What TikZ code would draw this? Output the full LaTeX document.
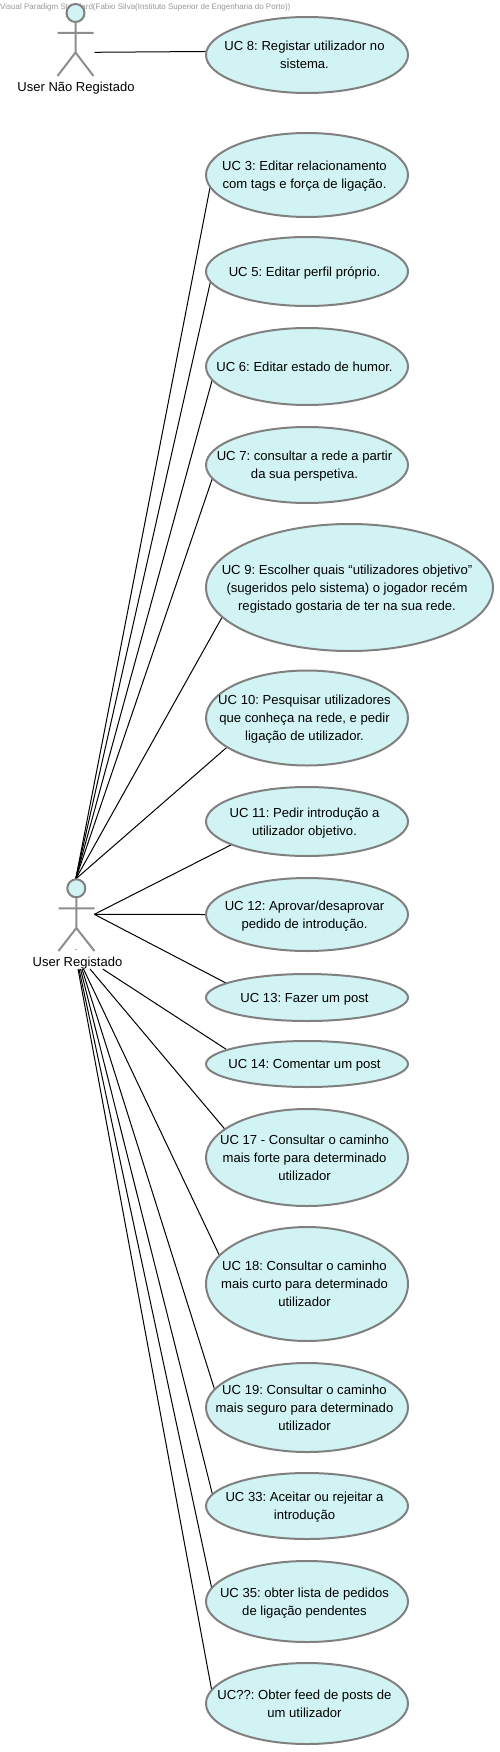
\documentclass[tikz,border=0pt]{standalone}
\usepackage{fontspec}
\setmainfont{Liberation Sans}
\usetikzlibrary{shapes.geometric,backgrounds}
\definecolor{ucfill}{RGB}{210,243,243}
\definecolor{ucline}{RGB}{128,128,128}
\definecolor{wm}{RGB}{150,150,150}
\newcommand{\uct}[1]{\makebox[0pt]{\kern-5pt\raisebox{-4pt}[0pt][0pt]{\frenchspacing\begin{tabular}{@{}c@{}}#1\end{tabular}}}}
\tikzset{
  usecase/.style={ellipse,draw=ucline,fill=ucfill,line width=2pt,inner sep=0pt,outer sep=0pt,
    minimum width=202pt,font=\fontsize{13.1}{18}\selectfont,text=black},
  actorline/.style={draw=ucline!90!white,line width=2pt},
  actorhead/.style={circle,draw=ucline,fill=ucfill,line width=2pt,inner sep=0pt,outer sep=0pt,minimum size=18pt},
  actorname/.style={font=\fontsize{13}{16}\selectfont,inner sep=0pt,text=black},
  assoc/.style={draw=black,line width=1pt},
  watermark/.style={font=\fontsize{8}{9}\selectfont,text=wm,inner sep=0pt,anchor=west}
}
\begin{document}
\begin{tikzpicture}[x=1pt,y=-1pt]
\useasboundingbox (0,0) rectangle (500,1752);
\node[watermark] (wmk) at (0,7.5) {Visual Paradigm Standard(Fabio Silva(Instituto Superior de Engenharia do Porto))};
% actors
\node[actorhead] (h1) at (75.5,13) {};
\coordinate (n1) at (75.5,52.5);
\coordinate (al1) at (57.5,33); \coordinate (ar1) at (93.5,33);
\coordinate (ll1) at (57.5,76); \coordinate (lr1) at (93.5,76);
\draw[actorline] (h1) -- (n1) (al1) -- (ar1) (ll1) -- (n1) -- (lr1);
\node[actorname] (a1) at (76,88) {User Não Registado};
\coordinate (a1r) at (94.5,52.3);
\node[actorhead] (h2) at (76.3,888.3) {};
\coordinate (n2) at (76.3,928);
\coordinate (al2) at (58.5,908.3); \coordinate (ar2) at (94.5,908.3);
\coordinate (ll2) at (58.5,951); \coordinate (lr2) at (94.5,951);
\draw[actorline] (h2) -- (n2) (al2) -- (ar2) (ll2) -- (n2) -- (lr2);
\node[actorname] (a2) at (77.5,963) {User Registado};
\node[inner sep=0pt,font=\fontsize{8}{9}\selectfont] (a2dot) at (76.3,950) {.};
\coordinate (a2t) at (75.7,879);
\coordinate (a2r) at (94.3,914.3);
\coordinate (b14) at (102.7,969);
\coordinate (b17) at (90,969);
\coordinate (b18) at (83.5,969);
\coordinate (b19) at (82,969);
\coordinate (b33) at (80.5,969);
\coordinate (b35) at (79,969);
\coordinate (b00) at (78,969);
% use cases
\node[usecase,minimum height=76pt] (uc8) at (307,55) {\uct{UC 8: Registar utilizador no\\sistema.}};
\node[usecase,minimum height=84pt] (uc3) at (307,175) {\uct{UC 3: Editar relacionamento\\com tags e força de ligação.}};
\node[usecase,minimum height=69pt] (uc5) at (307,271.5) {\uct{UC 5: Editar perfil próprio.}};
\node[usecase,minimum height=77pt] (uc6) at (307,366.5) {\uct{UC 6: Editar estado de humor.}};
\node[usecase,minimum height=76pt] (uc7) at (307,465) {\uct{UC 7: consultar a rede a partir\\da sua perspetiva.}};
\node[usecase,minimum width=287pt,minimum height=127pt] (uc9) at (349.5,587.5) {\uct{UC 9: Escolher quais “utilizadores objetivo”\\(sugeridos pelo sistema) o jogador recém\\registado gostaria de ter na sua rede.}};
\node[usecase,minimum height=95pt] (uc10) at (307,718) {\uct{UC 10: Pesquisar utilizadores\\que conheça na rede, e pedir\\ligação de utilizador.}};
\node[usecase,minimum height=69pt] (uc11) at (307,821.5) {\uct{UC 11: Pedir introdução a\\utilizador objetivo.}};
\node[usecase,minimum height=73pt] (uc12) at (307,914.5) {\uct{UC 12: Aprovar/desaprovar\\pedido de introdução.}};
\node[usecase,minimum height=47pt] (uc13) at (307,997.5) {\uct{UC 13: Fazer um post}};
\node[usecase,minimum height=46pt] (uc14) at (307,1064) {\uct{UC 14: Comentar um post}};
\node[usecase,minimum height=97pt] (uc17) at (307,1157.5) {\uct{UC 17 - Consultar o caminho\\mais forte para determinado\\utilizador}};
\node[usecase,minimum height=114pt] (uc18) at (307,1284) {\uct{UC 18: Consultar o caminho\\mais curto para determinado\\utilizador}};
\node[usecase,minimum height=89pt] (uc19) at (307,1407.5) {\uct{UC 19: Consultar o caminho\\mais seguro para determinado\\utilizador}};
\node[usecase,minimum height=66pt] (uc33) at (307,1506) {\uct{UC 33: Aceitar ou rejeitar a\\introdução}};
\node[usecase,minimum height=81pt] (uc35) at (307,1601.5) {\uct{UC 35: obter lista de pedidos\\de ligação pendentes}};
\node[usecase,minimum height=81pt] (ucq) at (307,1703.5) {\uct{UC??: Obter feed de posts de\\um utilizador}};
% associations, under the ellipses
\begin{scope}[on background layer]
\draw[assoc] (a1r) -- (uc8.178.47);
\draw[assoc] (a2t) -- (uc3.187.53);
\draw[assoc] (a2t) -- (uc5.186.45);
\draw[assoc] (a2t) -- (uc6.188.16);
\draw[assoc] (a2t) -- (uc7.188.46);
\draw[assoc] (a2t) -- (uc9.193.76);
\draw[assoc] (a2t) -- (uc10.200);
\draw[assoc] (a2r) -- (uc11.197.2);
\draw[assoc] (a2r) -- (uc12.180);
\draw[assoc] (a2r) -- (uc13.170.2);
\draw[assoc] (b14) -- (uc14.170.94);
\draw[assoc] (b17) -- (uc17.161.7);
\draw[assoc] (b18) -- (uc18.162.4);
\draw[assoc] (b19) -- (uc19.169.5);
\draw[assoc] (b33) -- (uc33.173.8);
\draw[assoc] (b35) -- (uc35.172.46);
\draw[assoc] (b00) -- (ucq.172.5);
\end{scope}
\end{tikzpicture}
\end{document}
